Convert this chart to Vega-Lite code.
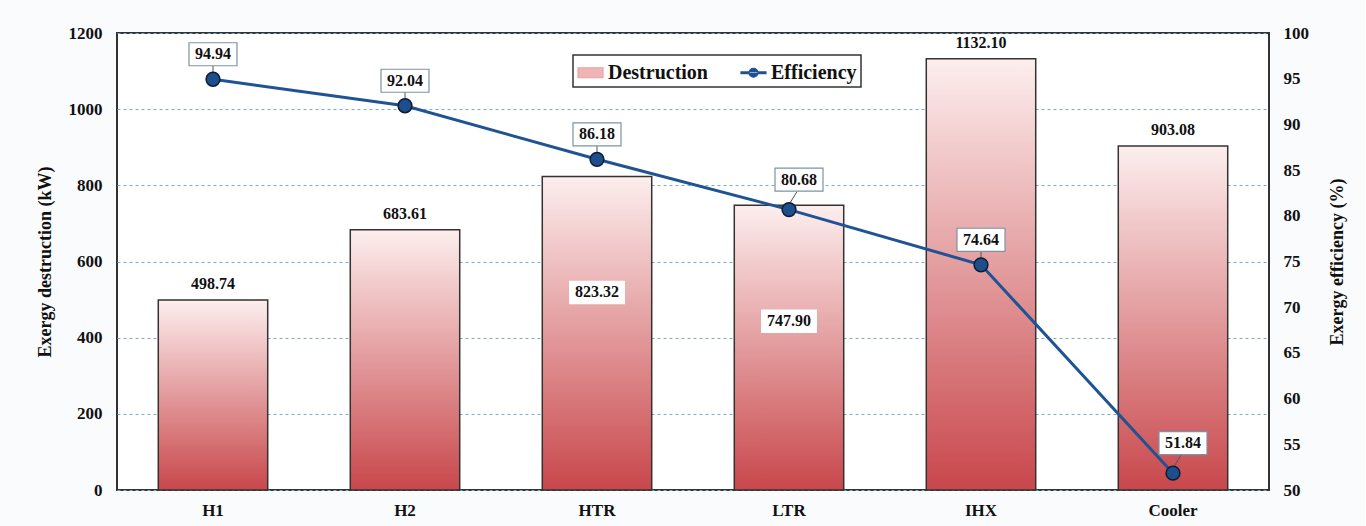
{
  "$schema": "https://vega.github.io/schema/vega-lite/v6.json",
  "autosize": {"type": "none"},
  "padding": {"left": 117, "top": 33, "right": 96, "bottom": 36},
  "width": 1152,
  "height": 457,
  "background": "#fafbfd",
  "config": {
    "font": "Liberation Serif",
    "view": {"fill": "white", "stroke": "#333333", "strokeWidth": 2},
    "axis": {
      "labelFont": "Liberation Serif", "labelFontWeight": "bold", "labelFontSize": 17, "labelColor": "#111",
      "titleFont": "Liberation Serif", "titleFontWeight": "bold", "titleFontSize": 18, "titleColor": "#111",
      "domain": false, "ticks": false
    },
    "legend": {
      "orient": "none", "legendX": 456, "legendY": 22, "direction": "horizontal",
      "fillColor": "white", "strokeColor": "#333", "strokeWidth": 1.5, "padding": 4, "title": null,
      "labelFont": "Liberation Serif", "labelFontWeight": "bold", "labelFontSize": 20, "labelColor": "#111",
      "columnPadding": 30, "symbolSize": 625, "labelOffset": 4
    }
  },
  "data": {"values": [
    {"c": "H1", "d": 498.74, "e": 94.94},
    {"c": "H2", "d": 683.61, "e": 92.04},
    {"c": "HTR", "d": 823.32, "e": 86.18},
    {"c": "LTR", "d": 747.90, "e": 80.68},
    {"c": "IHX", "d": 1132.10, "e": 74.64},
    {"c": "Cooler", "d": 903.08, "e": 51.84}
  ]},
  "encoding": {
    "x": {"field": "c", "type": "nominal", "sort": null, "title": null,
      "scale": {"paddingInner": 0.43, "paddingOuter": 0.215},
      "axis": {"labelAngle": 0, "labelPadding": 12, "grid": false}}
  },
  "layer": [
    {
      "encoding": {
        "y": {"field": "d", "type": "quantitative", "scale": {"domain": [0, 1200]}}
      },
      "layer": [
        {
          "mark": {"type": "bar", "stroke": "#333333", "strokeWidth": 1.5,
            "color": {"gradient": "linear", "x1": 0, "y1": 0, "x2": 0, "y2": 1, "stops": [{"offset": 0, "color": "#fdeeee"}, {"offset": 1, "color": "#c8474b"}]}},
          "encoding": {
            "y": {"field": "d", "type": "quantitative", "title": "Exergy destruction (kW)",
              "axis": {"values": [0, 200, 400, 600, 800, 1000, 1200], "format": "d", "grid": true, "gridColor": "#7aa8c6", "gridDash": [3, 3], "gridWidth": 1, "labelPadding": 15, "titlePadding": 14}}
          }
        },
        {
          "transform": [{"filter": "datum.c !== 'HTR' && datum.c !== 'LTR'"}],
          "mark": {"type": "text", "dy": -16, "fontWeight": "bold", "fontSize": 16, "font": "Liberation Serif", "color": "#111"},
          "encoding": {"text": {"field": "d", "type": "quantitative", "format": ".2f"}}
        },
        {
          "transform": [{"filter": "datum.c === 'HTR' || datum.c === 'LTR'"}],
          "mark": {"type": "point", "shape": "M-1,-0.42L1,-0.42L1,0.42L-1,0.42Z", "size": 3136, "filled": true, "fill": "white", "opacity": 1, "strokeWidth": 0, "yOffset": 116}
        },
        {
          "transform": [{"filter": "datum.c === 'HTR' || datum.c === 'LTR'"}],
          "mark": {"type": "text", "dy": 116, "fontWeight": "bold", "fontSize": 16, "font": "Liberation Serif", "color": "#111"},
          "encoding": {"text": {"field": "d", "type": "quantitative", "format": ".2f"}}
        }
      ]
    },
    {
      "encoding": {
        "y": {"field": "e", "type": "quantitative", "scale": {"domain": [50, 100]}}
      },
      "layer": [
        {
          "mark": {"type": "line", "strokeWidth": 3},
          "encoding": {
            "y": {"field": "e", "type": "quantitative", "title": "Exergy efficiency (%)",
              "axis": {"orient": "right", "values": [50, 55, 60, 65, 70, 75, 80, 85, 90, 95, 100], "grid": false, "labelPadding": 14, "titlePadding": 38, "titleAngle": 270}},
            "color": {"datum": "Efficiency", "type": "nominal",
              "scale": {"domain": ["Destruction", "Efficiency"], "range": ["#e9a3a3", "#1f5394"]},
              "legend": {
                "symbolType": "circle",
                "encode": {"symbols": {"update": {
                  "shape": {"signal": "datum.value === 'Destruction' ? 'M-1,-0.4L1,-0.4L1,0.4L-1,0.4Z' : 'M-1,-0.07L1,-0.07L1,0.07L-1,0.07Z M-0.36,0A0.36,0.36 0 1,0 0.36,0A0.36,0.36 0 1,0 -0.36,0Z'"},
                  "size": {"value": 625},
                  "fill": {"signal": "datum.value === 'Destruction' ? '#efb5b5' : '#1f4e8c'"},
                  "stroke": {"signal": "datum.value === 'Destruction' ? '#b04040' : '#0b1d35'"},
                  "strokeWidth": {"value": 1.2},
                  "opacity": {"value": 1}
                }}}
              }}
          }
        },
        {
          "transform": [{"filter": "datum.c !== 'LTR' && datum.c !== 'Cooler'"}],
          "mark": {"type": "rule", "stroke": "#555", "strokeWidth": 1, "yOffset": -5, "y2Offset": -14},
          "encoding": {"y2": {"field": "e"}}
        },
        {
          "transform": [{"filter": "datum.c === 'LTR' || datum.c === 'Cooler'"}],
          "mark": {"type": "rule", "stroke": "#555", "strokeWidth": 1, "yOffset": -5, "y2Offset": -18, "x2Offset": 8},
          "encoding": {"x2": {"field": "c"}, "y2": {"field": "e"}}
        },
        {
          "mark": {"type": "point", "filled": true, "fill": "#1f4e8c", "stroke": "#0b1d35", "strokeWidth": 1.5, "size": 190, "opacity": 1}
        },
        {
          "transform": [{"filter": "datum.c !== 'LTR' && datum.c !== 'Cooler'"}],
          "mark": {"type": "point", "shape": "M-1,-0.48L1,-0.48L1,0.48L-1,0.48Z", "size": 2304, "filled": false, "fill": "white", "fillOpacity": 1, "stroke": "#7d93a2", "strokeWidth": 1.2, "opacity": 1, "yOffset": -25}
        },
        {
          "transform": [{"filter": "datum.c !== 'LTR' && datum.c !== 'Cooler'"}],
          "mark": {"type": "text", "dy": -25, "fontWeight": "bold", "fontSize": 16, "font": "Liberation Serif", "color": "#111"},
          "encoding": {"text": {"field": "e", "type": "quantitative", "format": ".2f"}}
        },
        {
          "transform": [{"filter": "datum.c === 'LTR' || datum.c === 'Cooler'"}],
          "mark": {"type": "point", "shape": "M-1,-0.48L1,-0.48L1,0.48L-1,0.48Z", "size": 2304, "filled": false, "fill": "white", "fillOpacity": 1, "stroke": "#7d93a2", "strokeWidth": 1.2, "opacity": 1, "yOffset": -30, "xOffset": 10}
        },
        {
          "transform": [{"filter": "datum.c === 'LTR' || datum.c === 'Cooler'"}],
          "mark": {"type": "text", "dy": -30, "dx": 10, "fontWeight": "bold", "fontSize": 16, "font": "Liberation Serif", "color": "#111"},
          "encoding": {"text": {"field": "e", "type": "quantitative", "format": ".2f"}}
        }
      ]
    }
  ],
  "resolve": {"scale": {"y": "independent"}}
}
